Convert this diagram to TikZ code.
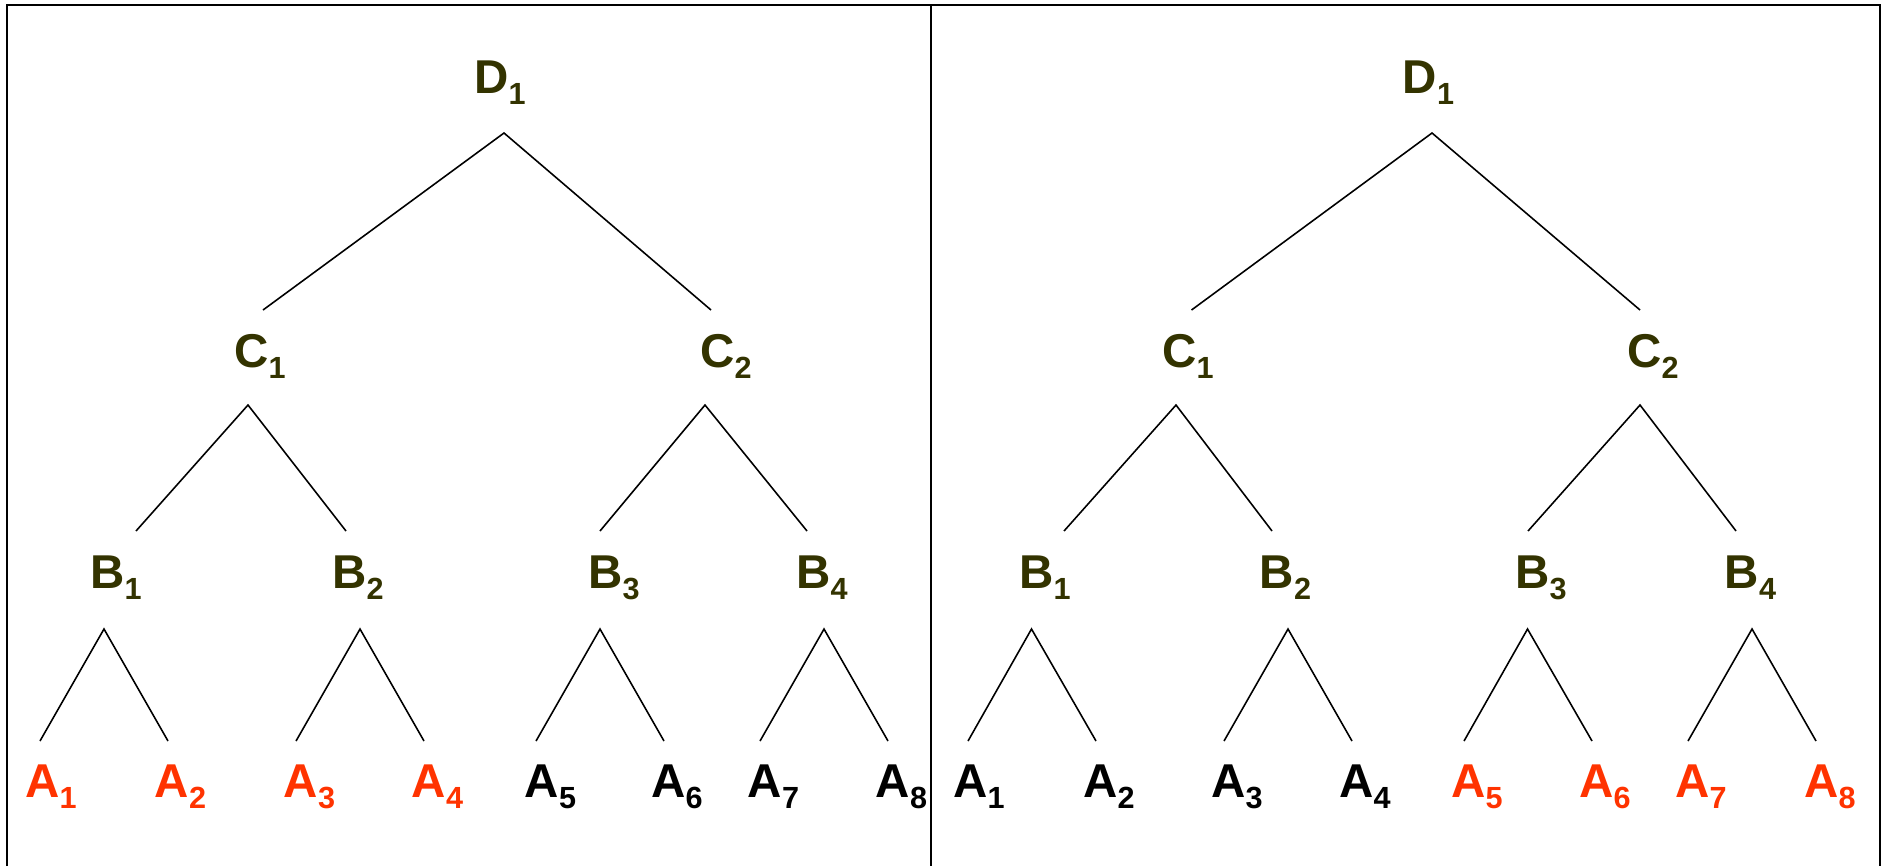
\documentclass[tikz,border=0pt]{standalone}
\usepackage{fontspec}
\setmainfont{Liberation Sans}
\definecolor{olive}{RGB}{51,51,0}
\definecolor{hot}{RGB}{255,51,0}
% letter with a lowered index, e.g. \idx{B}{3}
\newcommand\idx[2]{{\fontsize{13.5}{16}\selectfont\bfseries #1}\raisebox{-3.4pt}{\fontsize{8.7}{10}\selectfont\bfseries #2}}
\begin{document}
\begin{tikzpicture}[x=0.01cm, y=-0.01cm,
  lab/.style={inner sep=0pt, anchor=base},
  inner/.style={lab, text=olive},
  hit/.style={lab, text=hot},
  miss/.style={lab, text=black},
  edge/.style={draw=black, line width=0.45pt, line join=miter},
  frame/.style={draw=black, line width=0.6pt}]
\useasboundingbox (0,0) rectangle (1889,866);

% outer frame (open at the bottom) and the divider between the two trees
\draw[frame] (7,866) -- (7,5) -- (1880,5) -- (1880,866);
\draw[frame] (931,5) -- (931,866);

% ---------------- left tree ----------------
\node[inner] (LD1) at (500,93) {\idx{D}{1}};
\node[inner] (LC1) at (260,367) {\idx{C}{1}};
\node[inner] (LC2) at (726,367) {\idx{C}{2}};
\node[inner] (LB1) at (116,588) {\idx{B}{1}};
\node[inner] (LB2) at (358,588) {\idx{B}{2}};
\node[inner] (LB3) at (614,588) {\idx{B}{3}};
\node[inner] (LB4) at (822,588) {\idx{B}{4}};
\node[hit]  (LA1) at (51,797)   {\idx{A}{1}};
\node[hit]  (LA2) at (180.5,797) {\idx{A}{2}};
\node[hit]  (LA3) at (309.5,797) {\idx{A}{3}};
\node[hit]  (LA4) at (437.5,797) {\idx{A}{4}};
\node[miss] (LA5) at (550.5,797) {\idx{A}{5}};
\node[miss] (LA6) at (677,797)   {\idx{A}{6}};
\node[miss] (LA7) at (773.5,797) {\idx{A}{7}};
\node[miss] (LA8) at (901.5,797) {\idx{A}{8}};

% branch points under parents and line ends above children
\coordinate (LD1a) at (504,133);
\coordinate (LC1a) at (248,405);
\coordinate (LC2a) at (705,405);
\coordinate (LB1a) at (104,629);
\coordinate (LB2a) at (360,629);
\coordinate (LB3a) at (600,629);
\coordinate (LB4a) at (824,629);
\coordinate (LC1t) at (263,310);
\coordinate (LC2t) at (711,310);
\coordinate (LB1t) at (136,531);
\coordinate (LB2t) at (346,531);
\coordinate (LB3t) at (600,531);
\coordinate (LB4t) at (807,531);
\coordinate (LA1t) at (40,741);
\coordinate (LA2t) at (168,741);
\coordinate (LA3t) at (296,741);
\coordinate (LA4t) at (424,741);
\coordinate (LA5t) at (536,741);
\coordinate (LA6t) at (664,741);
\coordinate (LA7t) at (760,741);
\coordinate (LA8t) at (888,741);

\draw[edge] (LC1t) -- (LD1a) -- (LC2t);
\draw[edge] (LB1t) -- (LC1a) -- (LB2t);
\draw[edge] (LB3t) -- (LC2a) -- (LB4t);
\draw[edge] (LA1t) -- (LB1a) -- (LA2t);
\draw[edge] (LA3t) -- (LB2a) -- (LA4t);
\draw[edge] (LA5t) -- (LB3a) -- (LA6t);
\draw[edge] (LA7t) -- (LB4a) -- (LA8t);

% ---------------- right tree ----------------
\node[inner] (RD1) at (1428.5,93) {\idx{D}{1}};
\node[inner] (RC1) at (1188,367) {\idx{C}{1}};
\node[inner] (RC2) at (1653,367) {\idx{C}{2}};
\node[inner] (RB1) at (1045,588) {\idx{B}{1}};
\node[inner] (RB2) at (1285.5,588) {\idx{B}{2}};
\node[inner] (RB3) at (1541,588) {\idx{B}{3}};
\node[inner] (RB4) at (1750.5,588) {\idx{B}{4}};
\node[miss] (RA1) at (979,797)  {\idx{A}{1}};
\node[miss] (RA2) at (1109,797) {\idx{A}{2}};
\node[miss] (RA3) at (1237,797) {\idx{A}{3}};
\node[miss] (RA4) at (1365,797) {\idx{A}{4}};
\node[hit]  (RA5) at (1477,797) {\idx{A}{5}};
\node[hit]  (RA6) at (1605,797) {\idx{A}{6}};
\node[hit]  (RA7) at (1701,797) {\idx{A}{7}};
\node[hit]  (RA8) at (1830,797) {\idx{A}{8}};

\coordinate (RD1a) at (1432,133);
\coordinate (RC1a) at (1176,405);
\coordinate (RC2a) at (1640,405);
\coordinate (RB1a) at (1031.5,629);
\coordinate (RB2a) at (1288,629);
\coordinate (RB3a) at (1527.5,629);
\coordinate (RB4a) at (1752,629);
\coordinate (RC1t) at (1191.5,310);
\coordinate (RC2t) at (1640,310);
\coordinate (RB1t) at (1064,531);
\coordinate (RB2t) at (1272,531);
\coordinate (RB3t) at (1528,531);
\coordinate (RB4t) at (1736,531);
\coordinate (RA1t) at (968,741);
\coordinate (RA2t) at (1096,741);
\coordinate (RA3t) at (1224,741);
\coordinate (RA4t) at (1352,741);
\coordinate (RA5t) at (1464,741);
\coordinate (RA6t) at (1592,741);
\coordinate (RA7t) at (1688,741);
\coordinate (RA8t) at (1816,741);

\draw[edge] (RC1t) -- (RD1a) -- (RC2t);
\draw[edge] (RB1t) -- (RC1a) -- (RB2t);
\draw[edge] (RB3t) -- (RC2a) -- (RB4t);
\draw[edge] (RA1t) -- (RB1a) -- (RA2t);
\draw[edge] (RA3t) -- (RB2a) -- (RA4t);
\draw[edge] (RA5t) -- (RB3a) -- (RA6t);
\draw[edge] (RA7t) -- (RB4a) -- (RA8t);
\end{tikzpicture}
\end{document}
